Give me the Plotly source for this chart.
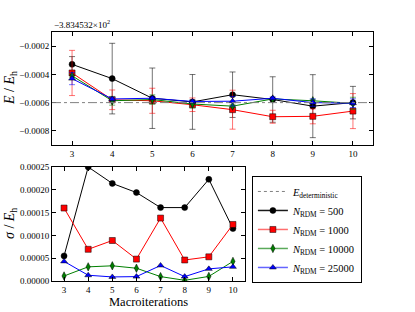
import plotly.graph_objects as go

iterations = [3, 4, 5, 6, 7, 8, 9, 10]
E_OFFSET_LABEL = "\u22123.834532\u00d710<sup>2</sup>"
E_det = -0.0006

# Energies relative to offset
E_500 = [-0.000329, -0.00043, -0.000569, -0.000595, -0.000544, -0.000578, -0.000625, -0.0006]
E_1000 = [-0.00039, -0.00058, -0.000587, -0.000615, -0.00065, -0.0007, -0.000697, -0.00066]
E_10000 = [-0.00041, -0.000587, -0.000578, -0.00061, -0.000625, -0.000574, -0.000587, -0.000605]
E_25000 = [-0.00043, -0.000574, -0.000569, -0.000592, -0.00059, -0.000569, -0.0006, -0.000604]

# Standard deviations
S_500 = [0.000055, 0.00025, 0.000214, 0.000194, 0.000161, 0.000161, 0.000223, 0.000115]
S_1000 = [0.00016, 0.0000695, 0.0000888, 0.000048, 0.000138, 0.000046, 0.000053, 0.000124]
S_10000 = [0.000011, 0.000031, 0.0000333, 0.000028, 0.0000096, 0.0000015, 0.00001, 0.000043]
S_25000 = [0.000043, 0.0000126, 0.0000089, 0.0000096, 0.000034, 0.0000096, 0.0000266, 0.000031]

top_ticks = [-0.0008, -0.0006, -0.0004, -0.0002]
top_ticktext = ["\u22120.0008", "\u22120.0006", "\u22120.0004", "\u22120.0002"]
bot_ticks = [0, 0.00005, 0.0001, 0.00015, 0.0002, 0.00025]
bot_ticktext = ["0.00000", "0.00005", "0.00010", "0.00015", "0.00020", "0.00025"]

series = [
    ("500", E_500, S_500, "black", "rgba(0,0,0,0.55)", "rgba(0,0,0,0.9)", "circle", 6),
    ("1000", E_1000, S_1000, "red", "rgba(255,0,0,0.55)", "rgba(255,110,110,1)", "square", 6),
    ("10000", E_10000, S_10000, "green", "rgba(0,128,0,0.55)", "rgba(90,170,90,1)", "diamond-tall", 6),
    ("25000", E_25000, S_25000, "blue", "rgba(0,0,255,0.55)", "rgba(100,100,255,1)", "triangle-up", 6),
]

FONT = "Liberation Serif"
fig = go.Figure()

# legend entry for deterministic line
fig.add_trace(go.Scatter(x=[None], y=[None], mode="lines", name="<i>E</i><sub>deterministic</sub>",
                         line=dict(color="gray", width=1, dash="dot"), xaxis="x2", yaxis="y2"))

for name, E, S, col, ecol, lcol, sym, sz in series:
    fig.add_trace(go.Scatter(
        x=iterations, y=E, mode="lines+markers", showlegend=False,
        line=dict(color=col, width=1),
        marker=dict(symbol=sym, size=sz, color=col, line=dict(color="black", width=0.5)),
        error_y=dict(type="data", array=S, visible=True, color=ecol, thickness=1, width=3),
        xaxis="x", yaxis="y"))
    fig.add_trace(go.Scatter(
        x=iterations, y=S, mode="lines+markers", showlegend=False,
        line=dict(color=col, width=1),
        marker=dict(symbol=sym, size=sz, color=col, line=dict(color="black", width=0.5)),
        xaxis="x2", yaxis="y2"))
    fig.add_trace(go.Scatter(
        x=[None], y=[None], mode="lines+markers",
        name="<i>N</i><sub>RDM</sub> = " + name,
        line=dict(color=lcol, width=1.5),
        marker=dict(symbol=sym, size=sz, color=col, line=dict(color="black", width=0.5)),
        xaxis="x2", yaxis="y2"))

fig.add_shape(type="line", xref="x domain", yref="y", x0=0, x1=1, y0=E_det, y1=E_det,
              line=dict(color="gray", width=1, dash="dashdot"))

axis_common = dict(showline=True, linecolor="black", linewidth=1, mirror="allticks",
                   ticks="inside", ticklen=4, tickcolor="black", showgrid=False,
                   zeroline=False, automargin=False,
                   tickfont=dict(family=FONT, size=9, color="black"))

fig.update_layout(
    width=415, height=312, margin=dict(l=0, r=0, t=0, b=0, autoexpand=False),
    paper_bgcolor="white", plot_bgcolor="white",
    font=dict(family=FONT, color="black"),
    xaxis=dict(domain=[0.1253, 0.8988], anchor="y", range=[2.5, 10.5],
               tickvals=iterations, **axis_common),
    yaxis=dict(domain=[0.5353, 0.8974], anchor="x", range=[-0.0009, -0.0001],
               tickvals=top_ticks, ticktext=top_ticktext, **axis_common),
    xaxis2=dict(domain=[0.1253, 0.5904], anchor="y2", range=[2.5, 10.5],
                tickvals=iterations, **axis_common),
    yaxis2=dict(domain=[0.0994, 0.4647], anchor="x2", range=[0, 0.00025],
                tickvals=bot_ticks, ticktext=bot_ticktext, **axis_common),
    legend=dict(x=0.607, y=0.436, xanchor="left", yanchor="top",
                bordercolor="black", borderwidth=1, bgcolor="white",
                font=dict(family=FONT, size=10.5, color="black"),
                tracegroupgap=0, itemwidth=30),
    showlegend=True,
)

fig.add_annotation(text=E_OFFSET_LABEL, xref="paper", yref="paper", x=52/415, y=1-24/312,
                   xanchor="left", yanchor="middle", showarrow=False,
                   font=dict(family=FONT, size=9, color="black"))
fig.add_annotation(text="<i>E</i> / <i>E</i><sub>h</sub>", xref="paper", yref="paper",
                   x=10/415, y=1-88/312, textangle=-90, showarrow=False,
                   xanchor="center", yanchor="middle",
                   font=dict(family=FONT, size=14, color="black"))
fig.add_annotation(text="<i>\u03c3</i> / <i>E</i><sub>h</sub>", xref="paper", yref="paper",
                   x=10/415, y=1-224/312, textangle=-90, showarrow=False,
                   xanchor="center", yanchor="middle",
                   font=dict(family=FONT, size=14, color="black"))
fig.add_annotation(text="Macroiterations", xref="paper", yref="paper",
                   x=148/415, y=1-302/312, showarrow=False,
                   xanchor="center", yanchor="middle",
                   font=dict(family=FONT, size=12.5, color="black"))

fig.write_html("out.html", config={"displayModeBar": False},
               post_script="document.body.style.margin='0';")
